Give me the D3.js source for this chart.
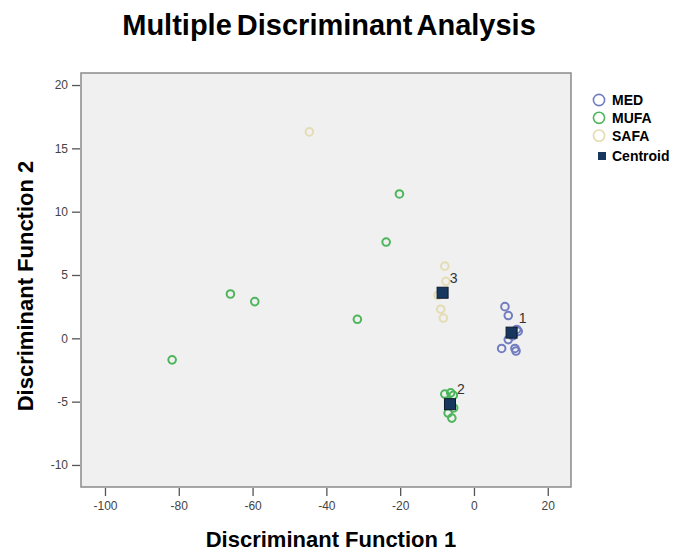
<!DOCTYPE html>
<html>
<head>
<meta charset="utf-8">
<script src="https://cdn.jsdelivr.net/npm/d3@7"></script>
<style>
  body { margin: 0; background: #fff; }
  text { font-family: Arial, "Liberation Sans", sans-serif; }
</style>
</head>
<body>
<div class="chart"></div>
<script>
// Data
let groups = ["MED", "MUFA", "SAFA"];
let medX  = [8.4, 9.3, 11.6, 12.0, 10.5, 9.3, 7.5, 11.1, 11.4];
let medY  = [2.5, 1.8, 0.7, 0.55, 0.2, -0.1, -0.8, -0.8, -1.0];
let mufaX = [-20.2, -23.8, -66.0, -59.4, -31.6, -81.8, -7.9, -6.3, -5.6, -6.7, -5.5, -7.0, -6.0];
let mufaY = [11.4, 7.6, 3.5, 2.9, 1.5, -1.7, -4.4, -4.3, -4.5, -5.0, -5.5, -5.9, -6.3];
let safaX = [-44.6, -7.9, -7.6, -9.7, -9.0, -8.3];
let safaY = [16.3, 5.7, 4.5, 3.4, 2.3, 1.6];
let centroidLabels = ["1", "2", "3"];
let centroidX = [10.2, -6.5, -8.5];
let centroidY = [0.45, -5.2, 3.6];
let xTicks = [-100, -80, -60, -40, -20, 0, 20];
let yTicks = [-10, -5, 0, 5, 10, 15, 20];

let colors = {MED: "#717dc0", MUFA: "#4db55b", SAFA: "#e4dcb2"};
let centroidFill = "#17375f";

let svgWidth = 687;
let svgHeight = 556;
let plot = {left: 81, right: 571, top: 73, bottom: 487};

let svg = d3.select(".chart").append("svg")
  .attr("width", svgWidth)
  .attr("height", svgHeight);

// scales (domain runs a little past the outer ticks, like the SPSS frame)
let x = d3.scaleLinear().domain([-106.5, 26.3]).range([plot.left, plot.right]);
let y = d3.scaleLinear().domain([-11.74, 20.95]).range([plot.bottom, plot.top]);

// plot background + frame
svg.append("rect")
  .attr("x", plot.left)
  .attr("y", plot.top)
  .attr("width", plot.right - plot.left)
  .attr("height", plot.bottom - plot.top)
  .attr("fill", "#f0f0f0")
  .attr("stroke", "#8a8a8a")
  .attr("stroke-width", 1.5);

// axes
let bottomAxis = d3.axisBottom(x).tickValues(xTicks).tickSize(8).tickSizeOuter(0)
  .tickPadding(5).tickFormat(d => String(d));
let leftAxis = d3.axisLeft(y).tickValues(yTicks).tickSize(8).tickSizeOuter(0)
  .tickPadding(4).tickFormat(d => String(d));

let gx = svg.append("g").attr("transform", `translate(0, ${plot.bottom + 1})`).call(bottomAxis);
let gy = svg.append("g").attr("transform", `translate(${plot.left - 1}, 0)`).call(leftAxis);

[gx, gy].forEach(g => {
  g.select(".domain").remove();
  g.selectAll(".tick line").attr("stroke", "#555").attr("stroke-width", 1.3);
  g.selectAll(".tick text")
    .attr("fill", "#444")
    .style("font-size", "12px")
    .style("font-family", "Arial, 'Liberation Sans', sans-serif");
});

// points
let series = [
  {name: "MED", xs: medX, ys: medY},
  {name: "MUFA", xs: mufaX, ys: mufaY},
  {name: "SAFA", xs: safaX, ys: safaY}
];

series.forEach(s => {
  svg.append("g").selectAll("circle")
    .data(s.xs.map((v, i) => ({x: v, y: s.ys[i]})))
    .enter()
    .append("circle")
    .attr("cx", d => x(d.x))
    .attr("cy", d => y(d.y))
    .attr("r", 3.8)
    .attr("fill", "none")
    .attr("stroke", colors[s.name])
    .attr("stroke-width", 2);
});

// group centroids
let centroids = centroidX.map((v, i) => ({x: v, y: centroidY[i], label: centroidLabels[i]}));

svg.append("g").selectAll("rect")
  .data(centroids)
  .enter()
  .append("rect")
  .attr("x", d => x(d.x) - 5.5)
  .attr("y", d => y(d.y) - 5.5)
  .attr("width", 11)
  .attr("height", 11)
  .attr("fill", centroidFill)
  .attr("stroke", "#0b1a2c")
  .attr("stroke-width", 1);

svg.append("g").selectAll("text")
  .data(centroids)
  .enter()
  .append("text")
  .attr("x", d => x(d.x) + 11)
  .attr("y", d => y(d.y) - 10)
  .attr("text-anchor", "middle")
  .attr("fill", "#333")
  .style("font-size", "14px")
  .text(d => d.label);

// legend
let legend = svg.append("g").attr("transform", "translate(599, 100)");
groups.forEach((name, i) => {
  legend.append("circle")
    .attr("cx", 0)
    .attr("cy", i * 17.8)
    .attr("r", 5.6)
    .attr("fill", "none")
    .attr("stroke", colors[name])
    .attr("stroke-width", 1.6);
  legend.append("text")
    .attr("x", 13)
    .attr("y", i * 17.8 + 5)
    .style("font-size", "14px")
    .style("font-weight", "bold")
    .text(name);
});
legend.append("rect")
  .attr("x", -1)
  .attr("y", 52)
  .attr("width", 8)
  .attr("height", 8)
  .attr("fill", centroidFill);
legend.append("text")
  .attr("x", 13)
  .attr("y", 61)
  .style("font-size", "14px")
  .style("font-weight", "bold")
  .text("Centroid");

// title
svg.append("text")
  .attr("x", 329)
  .attr("y", 35)
  .attr("text-anchor", "middle")
  .style("font-size", "29px")
  .style("font-weight", "bold")
  .style("word-spacing", "-3px")
  .text("Multiple Discriminant Analysis");

// axis labels
svg.append("text")
  .attr("x", 331)
  .attr("y", 547)
  .attr("text-anchor", "middle")
  .style("font-size", "22px")
  .style("font-weight", "bold")
  .text("Discriminant Function 1");

svg.append("text")
  .attr("transform", "translate(33, 286) rotate(-90)")
  .attr("text-anchor", "middle")
  .style("font-size", "22px")
  .style("font-weight", "bold")
  .text("Discriminant Function 2");
</script>
</body>
</html>
